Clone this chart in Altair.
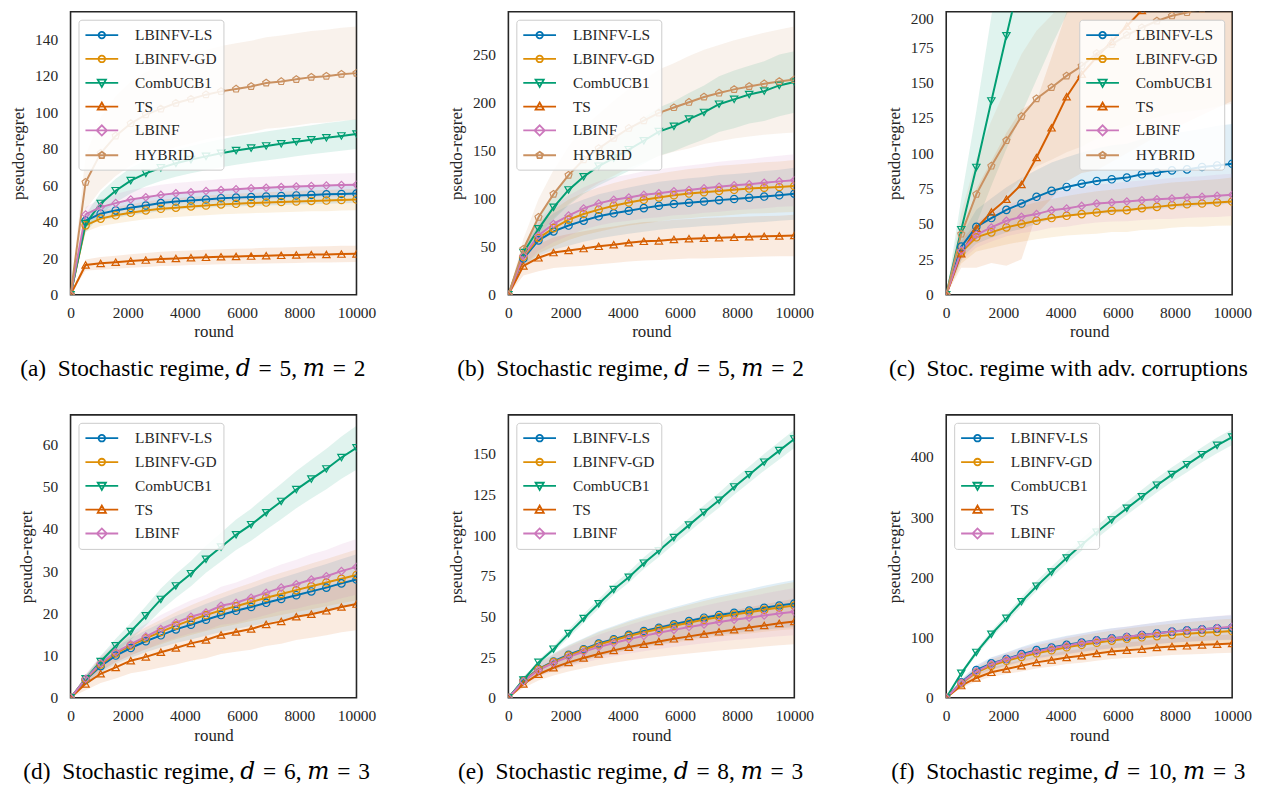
import altair as alt
import pandas as pd

FONT = "Liberation Serif"
CAP_FONT = "Liberation Serif, DejaVu Serif, serif"
TXT = "#262626"

ROUNDS = [0, 526, 1053, 1579, 2105, 2632, 3158, 3684, 4211, 4737,
          5263, 5789, 6316, 6842, 7368, 7895, 8421, 8947, 9474, 10000]

ALGOS = ["LBINFV-LS", "LBINFV-GD", "CombUCB1", "TS", "LBINF", "HYBRID"]
COLORS = ["#0173b2", "#de8f05", "#029e73", "#d55e00", "#cc78bc", "#ca9161"]
PENT = "M0,-1L0.951,-0.309L0.588,0.809L-0.588,0.809L-0.951,-0.309Z"
SHAPES = ["circle", "circle", "triangle-down", "triangle-up", "diamond", PENT]
SIZES = [55, 55, 60, 60, 95, 60]
LINE = "M-2,0L2,0"
LEG_SHAPES = [
    LINE + "M-0.4,0A0.4,0.4,0,1,0,0.4,0A0.4,0.4,0,1,0,-0.4,0",
    LINE + "M-0.4,0A0.4,0.4,0,1,0,0.4,0A0.4,0.4,0,1,0,-0.4,0",
    LINE + "M-0.5,-0.38L0.5,-0.38L0,0.5Z",
    LINE + "M-0.5,0.38L0.5,0.38L0,-0.5Z",
    LINE + "M-0.62,0L0,-0.62L0.62,0L0,0.62Z",
    LINE + "M0,-0.42L0.4,-0.13L0.247,0.34L-0.247,0.34L-0.4,-0.13Z",
]

# ---- panel (a)
A_LS = [0, 40.5, 44.4, 46.2, 47.6, 48.9, 50.2, 51.1, 51.6, 52.2, 52.9, 53.2, 53.5, 53.8, 54.1, 54.4, 54.7, 55.0, 55.2, 55.4]
A_GD = [0, 38.0, 41.7, 43.5, 44.9, 46.2, 47.1, 47.7, 48.4, 48.9, 49.5, 49.8, 50.2, 50.5, 50.8, 51.1, 51.4, 51.6, 51.9, 52.2]
A_CU = [0, 39.0, 50.0, 57.0, 62.5, 66.5, 69.5, 72.0, 74.0, 75.8, 77.5, 79.0, 80.3, 81.5, 82.7, 83.8, 84.9, 86.0, 87.0, 88.0]
A_TS = [0, 16.3, 17.2, 17.8, 18.5, 19.0, 19.6, 19.9, 20.3, 20.5, 20.8, 21.0, 21.2, 21.4, 21.6, 21.8, 22.0, 22.1, 22.3, 22.4]
A_LB = [0, 44.0, 48.0, 50.2, 52.2, 53.4, 54.7, 55.6, 56.2, 56.8, 57.4, 57.8, 58.3, 58.6, 59.0, 59.3, 59.6, 59.8, 60.1, 60.3]
A_HY = [0, 61.6, 77.5, 87.0, 93.8, 98.7, 101.8, 105.0, 107.2, 109.6, 111.4, 112.7, 114.1, 116.0, 116.8, 118.0, 119.2, 119.7, 120.8, 121.4]
A_LS_S = [0, 3, 3.5, 4, 4, 4.2, 4.3, 4.4, 4.5, 4.6, 4.7, 4.8, 4.8, 4.9, 5, 5, 5, 5.1, 5.1, 5.2]
A_GD_S = [0, 3.5, 4, 4.5, 4.7, 4.9, 5, 5.1, 5.2, 5.3, 5.4, 5.5, 5.5, 5.6, 5.6, 5.7, 5.7, 5.8, 5.8, 5.9]
A_CU_S = [0, 5, 6, 6.5, 7, 7, 7.2, 7.4, 7.5, 7.6, 7.7, 7.8, 7.8, 7.9, 8, 8, 8, 8.1, 8.1, 8.2]
A_TS_S = [0, 3, 3.5, 3.6, 3.7, 3.8, 3.9, 4, 4, 4.1, 4.1, 4.2, 4.2, 4.3, 4.3, 4.4, 4.4, 4.5, 4.5, 4.5]
A_LB_S = [0, 4, 4.5, 5, 5.2, 5.4, 5.5, 5.6, 5.7, 5.8, 5.9, 6, 6, 6.1, 6.1, 6.2, 6.2, 6.3, 6.3, 6.4]
A_HY_S = [0, 15, 20, 22, 23, 23.5, 24, 24.2, 24.4, 24.6, 24.8, 25, 25, 25.1, 25.2, 25.3, 25.3, 25.4, 25.5, 25.5]

# ---- panel (b)
B_LS = [0, 37.7, 56.5, 65.8, 71.9, 77.0, 81.5, 84.6, 87.3, 90.0, 92.5, 94.2, 95.6, 96.9, 98.3, 99.5, 100.8, 102.0, 103.4, 105.0]
B_GD = [0, 39.4, 58.9, 69.2, 78.0, 83.9, 88.4, 92.5, 95.9, 98.6, 101.0, 103.4, 105.1, 106.5, 107.9, 109.0, 110.3, 111.2, 112.0, 113.0]
B_CU = [0, 43.8, 68.5, 90.8, 108.9, 122.6, 133.6, 142.0, 150.7, 160.0, 169.5, 175.0, 182.5, 189.4, 198.0, 203.0, 208.0, 211.6, 217.5, 221.0]
B_TS = [0, 30.0, 38.4, 43.8, 46.0, 48.0, 50.3, 52.0, 54.0, 55.5, 56.0, 57.5, 58.2, 58.7, 59.2, 59.7, 60.3, 60.7, 61.1, 61.6]
B_LB = [0, 40.4, 61.6, 73.6, 82.2, 89.7, 94.9, 98.6, 101.0, 103.8, 105.5, 107.5, 108.9, 110.6, 112.3, 113.7, 114.7, 116.4, 117.8, 119.0]
B_HY = [0, 47.3, 80.5, 104.5, 124.3, 140.4, 152.0, 162.7, 173.0, 180.8, 189.0, 194.5, 200.0, 205.5, 209.6, 213.4, 216.4, 219.2, 221.6, 223.6]
B_MID_S = [0, 10, 16, 19, 21, 22, 23, 23.5, 24, 24.5, 25, 25, 25.5, 25.5, 26, 26, 26, 26.5, 26.5, 27]
B_CU_S = [0, 6, 10, 13, 16, 18, 20, 21, 22, 24, 25, 26, 27, 28, 29, 30, 30, 31, 32, 32]
B_TS_S = [0, 10, 14, 16, 17, 18, 18.5, 19, 19.5, 20, 20, 20.5, 20.5, 21, 21, 21, 21, 21, 21, 21.5]
B_HY_S = [0, 11, 19, 25, 30, 34, 36, 39, 41, 43, 45, 46, 48, 49, 50, 51, 52, 53, 54, 55]

# ---- panel (c)
C_LS = [0, 34.0, 48.0, 54.2, 60.0, 64.5, 69.2, 73.4, 76.2, 78.5, 80.4, 81.6, 82.8, 85.1, 86.3, 87.9, 88.6, 90.3, 91.4, 92.6]
C_GD = [0, 30.0, 40.6, 44.1, 47.6, 50.0, 52.3, 54.2, 55.8, 57.0, 58.1, 59.3, 59.8, 61.2, 62.1, 63.3, 64.0, 64.5, 65.2, 65.9]
C_CU = [0, 46, 90, 137, 183, 228, 272, 316, 358, 400, 440, 480, 518, 556, 592, 628, 662, 696, 728, 760]
C_TS = [0, 29, 47, 58.5, 67.5, 78, 97, 118, 140, 156, 168, 179, 190, 201, 212, 222, 232, 242, 252, 262]
C_LB = [0, 31.2, 42.4, 47.6, 52.3, 55.1, 57.0, 59.8, 61.0, 62.8, 64.5, 65.2, 65.9, 66.8, 67.5, 68.0, 68.7, 69.2, 69.9, 70.6]
C_HY = [0, 42.9, 71.0, 91.0, 109.0, 126.0, 138.6, 146.5, 154.7, 161.7, 170.6, 177.0, 183.5, 188.8, 193.5, 197.2, 199.5, 202, 205, 207]
C_LS_S = [0, 8, 12, 14, 16, 18, 19, 20, 21, 22, 23, 24, 24, 25, 26, 26, 27, 27, 28, 28]
C_GD_S = [0, 8, 10, 11, 12, 12.5, 13, 13.5, 14, 14.5, 15, 15, 15.5, 15.5, 16, 16, 16, 16.5, 16.5, 17]
C_CU_S = [0, 22, 40, 60, 80, 100, 120, 140, 160, 180, 198, 216, 233, 250, 266, 283, 298, 313, 328, 342]
C_TS_S = [0, 10, 28, 36, 47, 53, 40, 50, 60, 70, 80, 85, 90, 95, 100, 105, 110, 115, 120, 125]
C_LB_S = [0, 7, 9, 10, 11, 11.5, 12, 12.5, 13, 13, 13.5, 13.5, 14, 14, 14, 14.5, 14.5, 14.5, 15, 15]
C_HY_S = [0, 15, 25, 32, 38, 44, 48, 51, 54, 57, 60, 62, 64, 66, 68, 69, 70, 71, 72, 72]

# ---- panel (d)
D_LS = [0, 4.3, 7.5, 10.0, 11.8, 13.4, 14.8, 16.2, 17.3, 18.5, 19.6, 20.6, 21.5, 22.5, 23.4, 24.3, 25.2, 26.1, 27.1, 28.0]
D_GD = [0, 4.4, 7.9, 10.5, 12.4, 14.1, 15.6, 17.1, 18.4, 19.6, 20.7, 21.7, 22.7, 23.7, 24.6, 25.5, 26.4, 27.3, 28.2, 29.1]
D_CU = [0, 4.5, 8.6, 12.3, 15.7, 19.4, 23.3, 26.5, 29.4, 32.8, 35.7, 38.6, 41.0, 43.8, 46.5, 49.3, 51.8, 54.2, 56.9, 59.2]
D_TS = [0, 3.3, 5.7, 7.2, 8.8, 9.7, 10.8, 11.8, 12.9, 13.7, 14.9, 15.6, 16.3, 17.4, 18.1, 19.2, 19.8, 20.6, 21.5, 22.2]
D_LB = [0, 4.5, 8.2, 10.8, 12.7, 14.5, 16.3, 17.8, 19.2, 20.2, 21.8, 22.5, 23.7, 24.9, 26.1, 26.9, 28.0, 28.8, 30.0, 31.0]
D_CU_S = [0, 0.8, 1.3, 1.7, 2, 2.3, 2.6, 2.8, 3, 3.2, 3.4, 3.6, 3.8, 4, 4.2, 4.4, 4.6, 4.8, 5, 5.2]
D_MID_S = [0, 1, 1.6, 2, 2.3, 2.6, 2.9, 3.2, 3.5, 3.8, 4, 4.3, 4.5, 4.8, 5, 5.2, 5.4, 5.6, 5.8, 6]
D_LB_S = [0, 1.1, 1.8, 2.3, 2.7, 3, 3.3, 3.6, 3.9, 4.2, 4.5, 4.8, 5, 5.3, 5.5, 5.8, 6, 6.2, 6.4, 6.6]
D_TS_S = [0, 1.5, 2.2, 2.6, 3, 3.3, 3.6, 3.9, 4.1, 4.3, 4.5, 4.7, 4.9, 5.1, 5.3, 5.5, 5.6, 5.8, 6, 6.2]

# ---- panel (e)
E_LS = [0, 10.6, 17.7, 22.4, 26.5, 29.9, 33.4, 36.0, 38.7, 41.1, 43.1, 45.2, 47.2, 49.3, 50.9, 52.3, 53.7, 55.4, 56.8, 58.0]
E_GD = [0, 10.4, 17.5, 22.0, 26.0, 29.4, 32.8, 35.4, 38.0, 40.3, 42.3, 44.3, 46.2, 48.1, 49.7, 51.2, 52.6, 54.1, 55.5, 56.8]
E_CU = [0, 11.0, 21.8, 29.9, 39.5, 48.8, 57.8, 66.6, 74.1, 82.8, 90.4, 98.5, 106.2, 114.0, 121.5, 129.7, 137.2, 144.9, 152.0, 159.2]
E_TS = [0, 8.5, 14.5, 18.5, 21.8, 24.5, 27.0, 29.2, 31.2, 33.0, 34.7, 36.3, 37.8, 39.2, 40.6, 41.9, 43.2, 44.5, 45.8, 47.0]
E_LB = [0, 10.2, 17.0, 21.5, 25.2, 28.3, 31.3, 33.7, 36.0, 38.1, 40.0, 41.8, 43.5, 45.1, 46.6, 48.0, 49.3, 50.6, 51.8, 53.0]
E_CU_S = [0, 1, 1.5, 2, 2.5, 2.8, 3, 3.2, 3.4, 3.6, 3.8, 4, 4.2, 4.4, 4.6, 4.8, 5, 5.2, 5.4, 5.6]
E_MID_S = [0, 2.5, 4, 5, 6, 6.8, 7.5, 8.2, 8.8, 9.4, 10, 10.5, 11, 11.5, 12, 12.5, 13, 13.5, 14, 14.5]
E_TS_S = [0, 2.5, 3.8, 4.8, 5.6, 6.3, 7, 7.6, 8.2, 8.8, 9.4, 10, 10.5, 11, 11.5, 12, 12.5, 13, 13.5, 14]

# ---- panel (f)
F_LS = [0, 25.9, 46.2, 57.2, 64.4, 72.6, 79.2, 83.6, 88.0, 91.9, 95.7, 99.0, 101.2, 104.5, 107.3, 110.0, 112.2, 113.9, 115.5, 116.6]
F_GD = [0, 24.0, 42.0, 53.5, 61.5, 68.0, 74.0, 79.0, 84.0, 88.0, 91.5, 95.0, 98.0, 100.5, 102.5, 104.5, 106.5, 108.0, 109.5, 111.0]
F_CU = [0, 40.7, 75.4, 105.6, 132.0, 159.6, 185.4, 209.0, 232.2, 254.2, 275.1, 295.5, 314.7, 334.0, 353.2, 370.8, 387.3, 403.9, 419.3, 433.0]
F_TS = [0, 20.4, 33.0, 42.4, 47.9, 53.4, 58.9, 62.7, 67.1, 69.9, 73.7, 77.0, 79.2, 80.9, 83.6, 85.3, 86.4, 88.0, 89.1, 90.2]
F_LB = [0, 25.0, 44.0, 56.0, 64.0, 71.0, 77.0, 82.5, 87.0, 91.0, 95.0, 98.5, 101.5, 104.5, 107.0, 110.0, 112.0, 114.0, 116.0, 118.0]
F_CU_S = [0, 3, 5, 6, 7, 8, 8.5, 9, 9.5, 10, 10.5, 11, 11, 11.5, 12, 12, 12.5, 12.5, 13, 13]
F_MID_S = [0, 5, 8, 10, 11, 12, 13, 14, 15, 15.5, 16, 16.5, 17, 17.5, 18, 18.5, 19, 19.5, 20, 20.5]
F_TS_S = [0, 4, 6, 7.5, 8.5, 9.5, 10, 10.5, 11, 11.5, 12, 12.5, 13, 13.5, 14, 14, 14.5, 15, 15, 15.5]

X_TICKS = [0, 2000, 4000, 6000, 8000, 10000]
SP = "\u2004"
SP2 = "\u2002"


def caption_math(letter, d, m):
    return f"({letter}){SP2}Stochastic regime, 𝑑{SP}={SP}{d}, 𝑚{SP}={SP}{m}"


def panel(means, spreads, ymax, yticks, caption, legend_orient, baseline_top=None):
    n = len(means)
    dom = ALGOS[:n]
    rows = []
    for name, m, s in zip(dom, means, spreads):
        for r, v, w in zip(ROUNDS, m, s):
            rows.append({"round": r, "algo": name, "mean": v, "lo": v - w, "hi": v + w})
    df = pd.DataFrame(rows)

    common = dict(grid=False, ticks=False, domain=False, labelFlush=False,
                  labelFont=FONT, titleFont=FONT, labelFontSize=15.5, titleFontSize=17,
                  labelColor=TXT, titleColor=TXT, titleFontWeight="normal")
    xenc = alt.X("round:Q", scale=alt.Scale(domain=[0, 10000], nice=False),
                 axis=alt.Axis(values=X_TICKS, format="d", title="round",
                               labelPadding=11, titlePadding=3, **common))
    yaxis_kw = dict(values=yticks, format="d", title="pseudo-regret",
                    labelPadding=13, titlePadding=7, **common)
    if baseline_top is not None:
        yaxis_kw["labelBaseline"] = alt.condition(f"datum.value == {baseline_top}",
                                                  alt.value("top"), alt.value("middle"))
    yscale = alt.Scale(domain=[0, ymax], nice=False)
    yenc = alt.Y("mean:Q", scale=yscale, axis=alt.Axis(**yaxis_kw))
    cscale = alt.Scale(domain=dom, range=COLORS[:n])

    base = alt.Chart(df)
    bands = base.mark_area(opacity=0.12, clip=True).encode(
        x=xenc, y=alt.Y("lo:Q", scale=yscale, axis=alt.Axis(**yaxis_kw)), y2="hi:Q",
        color=alt.Color("algo:N", scale=cscale, legend=None),
    )
    lines = base.mark_line(strokeWidth=2, clip=True).encode(
        x=xenc, y=yenc, color=alt.Color("algo:N", scale=cscale, legend=None),
    )
    points = base.mark_point(filled=False, strokeWidth=1.2, opacity=1, clip=True).encode(
        x=xenc, y=yenc,
        color=alt.Color("algo:N", scale=cscale, legend=None),
        shape=alt.Shape("algo:N", scale=alt.Scale(domain=dom, range=SHAPES[:n]), legend=None),
        size=alt.Size("algo:N", scale=alt.Scale(domain=dom, range=SIZES[:n]), legend=None),
    )
    leg = alt.Legend(
        orient=legend_orient, offset=8, title=None,
        fillColor="rgba(255,255,255,0.85)", strokeColor="#cccccc", cornerRadius=3,
        padding=6, labelFont=FONT, labelFontSize=15.5, labelColor=TXT,
        symbolSize=272, symbolStrokeWidth=1.8, symbolOffset=8, labelOffset=24,
        rowPadding=6, symbolOpacity=1,
    )
    legend_layer = base.mark_point(filled=False).encode(
        x=xenc, y=yenc,
        color=alt.Color("algo:N", scale=cscale, legend=leg),
        shape=alt.Shape("algo:N", scale=alt.Scale(domain=dom, range=LEG_SHAPES[:n]), legend=leg),
    ).transform_filter("datum.round < 0")

    return alt.layer(bands, lines, points, legend_layer).resolve_scale(
        color="independent", shape="independent"
    ).properties(
        width=288, height=285,
        view=alt.ViewBackground(stroke="#262626", strokeWidth=1.6),
        title=alt.TitleParams(text=caption, orient="bottom", anchor="middle", frame="bounds",
                              fontSize=23.5, font=CAP_FONT, fontWeight="normal", color="black",
                              offset=17),
    )


pa = panel([A_LS, A_GD, A_CU, A_TS, A_LB, A_HY],
           [A_LS_S, A_GD_S, A_CU_S, A_TS_S, A_LB_S, A_HY_S],
           155, list(range(0, 141, 20)), caption_math("a", 5, 2), "top-left")
pb = panel([B_LS, B_GD, B_CU, B_TS, B_LB, B_HY],
           [B_MID_S, B_MID_S, B_CU_S, B_TS_S, B_MID_S, B_HY_S],
           294, list(range(0, 251, 50)), caption_math("b", 5, 2), "top-left")
pc = panel([C_LS, C_GD, C_CU, C_TS, C_LB, C_HY],
           [C_LS_S, C_GD_S, C_CU_S, C_TS_S, C_LB_S, C_HY_S],
           200, list(range(0, 201, 25)), f"(c){SP2}Stoc. regime with adv. corruptions", "top-right",
           baseline_top=200)
pd_ = panel([D_LS, D_GD, D_CU, D_TS, D_LB],
            [D_MID_S, D_MID_S, D_CU_S, D_TS_S, D_LB_S],
            67, list(range(0, 61, 10)), caption_math("d", 6, 3), "top-left")
pe = panel([E_LS, E_GD, E_CU, E_TS, E_LB],
           [E_MID_S, E_MID_S, E_CU_S, E_TS_S, E_MID_S],
           174, list(range(0, 151, 25)), caption_math("e", 8, 3), "top-left")
pf = panel([F_LS, F_GD, F_CU, F_TS, F_LB],
           [F_MID_S, F_MID_S, F_CU_S, F_TS_S, F_MID_S],
           470, list(range(0, 401, 100)), caption_math("f", 10, 3), "top-left")

chart = alt.concat(pa, pb, pc, pd_, pe, pf, columns=3, bounds="flush",
                   spacing={"row": 121, "column": 153}).properties(
    padding={"left": 0, "top": 0, "right": 0, "bottom": 0}
).configure_view(
    stroke="#262626", strokeWidth=1.6
)

chart.save("out.html", embed_options={"renderer": "svg", "actions": False})
